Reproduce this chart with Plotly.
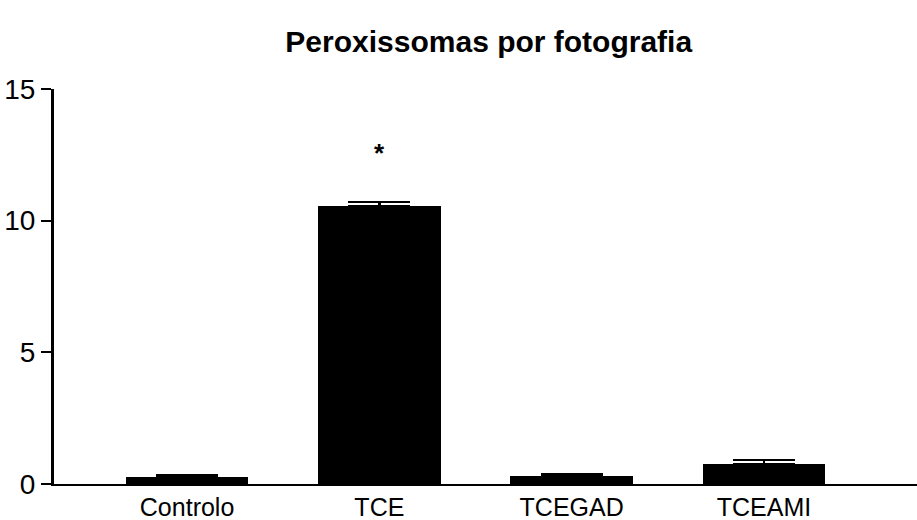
import plotly.graph_objects as go

categories = ["Controlo", "TCE", "TCEGAD", "TCEAMI"]
means = [0.25, 10.55, 0.29, 0.76]
errors = [0.08, 0.15, 0.07, 0.16]
y_ticks = [0, 5, 10, 15]
star_label = "*"
star_value = 12.7
title_text = "Peroxissomas por fotografia"

FONT = "Liberation Sans, Arial, sans-serif"

fig = go.Figure()
fig.add_trace(go.Bar(
    x=list(range(len(categories))),
    y=means,
    width=0.637,
    marker=dict(color="black", line=dict(width=0)),
    error_y=dict(type="data", array=errors, arrayminus=[0] * len(errors),
                 symmetric=False, color="black", thickness=2.5, width=31),
    showlegend=False,
))

fig.add_annotation(x=1, y=star_value, text="<b>" + star_label + "</b>", showarrow=False,
                   font=dict(family=FONT, size=26, color="black"),
                   yanchor="middle", yshift=-3)

fig.update_layout(
    width=917, height=520,
    paper_bgcolor="white", plot_bgcolor="white",
    margin=dict(l=54, r=0, t=89, b=36),
    title=dict(text="<b>" + title_text + "</b>", x=0.533, xanchor="center",
               y=0.92, yanchor="middle",
               font=dict(family=FONT, size=30, color="black")),
    bargap=0,
)
fig.update_xaxes(
    range=[-0.692, 3.796],
    tickmode="array", tickvals=list(range(len(categories))), ticktext=categories,
    showline=True, linecolor="black", linewidth=2,
    ticks="", showgrid=False, zeroline=False,
    tickfont=dict(family=FONT, size=25, color="black"),
)
fig.update_yaxes(
    range=[0, 15],
    tickmode="array", tickvals=y_ticks,
    showline=True, linecolor="black", linewidth=3,
    ticks="outside", ticklen=10, tickwidth=2, tickcolor="black",
    showgrid=False, zeroline=False,
    tickfont=dict(family=FONT, size=28, color="black"),
)

fig.write_html("out.html", config={"displayModeBar": False},
               post_script="document.body.style.margin='0';")
